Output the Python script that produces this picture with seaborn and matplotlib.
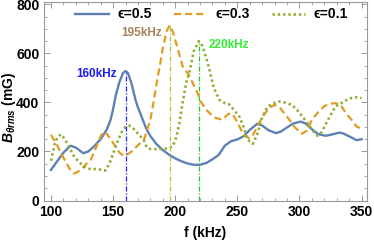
import numpy as np
import pandas as pd
import matplotlib
matplotlib.use("Agg")
import matplotlib.pyplot as plt
import seaborn as sns

# values (f in kHz, B in mG)
f_05 = [100, 105, 110, 115, 116, 120, 125, 126, 130, 135, 137, 140, 145, 148, 150,
        152, 155, 158, 160, 162, 165, 168, 170, 175, 177, 180, 185, 187, 190, 195,
        200, 205, 210, 215, 217, 220, 225, 230, 235, 240, 245, 250, 255, 260, 266,
        270, 275, 281, 285, 290, 295, 301, 305, 310, 315, 321, 325, 332, 335, 340,
        346, 350]
b_05 = [125, 160, 195, 220, 223, 216, 197, 193, 200, 222, 234, 250, 290, 330, 372,
        425, 482, 520, 528, 520, 475, 411, 380, 315, 290, 263, 230, 220, 206, 187,
        172, 160, 151, 146, 145, 146, 153, 168, 186, 224, 242, 249, 262, 288, 313,
        306, 287, 275, 281, 298, 314, 322, 314, 291, 271, 264, 268, 277, 274, 262,
        246, 250]

f_03 = [100, 105, 110, 115, 118, 120, 125, 130, 132, 135, 140, 142.5, 145, 150, 152,
        155, 158.5, 160, 165, 169, 175, 177, 180, 182, 186, 188, 190, 193, 195.5, 198,
        202, 206, 211, 215, 218, 221, 225, 230, 233, 238, 243, 246, 250, 255, 259.6,
        262, 266, 270, 273, 276, 280, 284, 288, 292, 296, 302, 306, 310, 315, 320,
        325, 329, 333, 338, 342, 346, 350]
b_03 = [268, 225, 175, 130, 111, 112, 130, 158, 166, 200, 262, 281, 272, 235, 220,
        196, 182, 183, 200, 220, 250, 281, 330, 384, 506, 560, 620, 690, 714, 690,
        620, 547, 512, 470, 438, 400, 370, 345, 336, 330, 354, 354, 320, 268, 254,
        262, 300, 340, 360, 380, 390, 380, 355, 329, 300, 272, 285, 329, 360, 385,
        395, 397, 390, 352, 329, 302, 292]

f_01 = [100, 103, 105, 108, 111, 115, 118, 121, 125, 128, 132, 138, 143.8, 147, 150,
        153, 157, 160, 163.4, 167, 172, 174.6, 177, 180, 187, 193, 198, 201, 203.4, 206,
        208.8, 211.5, 215, 219, 222, 225, 227.6, 231, 235.5, 240, 243.5, 248, 251.6, 255, 258,
        262.4, 266, 270.3, 274, 278, 283.6, 288, 294, 298, 302, 305, 310, 314.4, 318, 323.7,
        329, 332, 338, 343.8, 350]
b_01 = [162, 230, 255, 270, 252, 215, 185, 166, 145, 133, 128, 128, 122, 150, 190,
        234, 280, 300, 305, 290, 262, 247, 218, 210, 209, 212, 220, 260, 316, 400,
        479, 525, 610, 650, 630, 580, 534, 460, 411, 397, 392, 365, 343, 300, 250,
        231, 270, 343, 380, 395, 404, 400, 390, 370, 345, 325, 290, 264, 280, 336,
        384, 392, 410, 422, 418]

labels = ["ϵ=0.5", "ϵ=0.3", "ϵ=0.1"]
peak_labels = ["160kHz", "195kHz", "220kHz"]

plt.rcParams["font.family"] = ["Liberation Sans", "DejaVu Sans"]
plt.rcParams["font.weight"] = "bold"
plt.rcParams["mathtext.fontset"] = "custom"
plt.rcParams["mathtext.rm"] = "Liberation Sans:bold"
plt.rcParams["mathtext.it"] = "Liberation Sans:italic:bold"
plt.rcParams["mathtext.bf"] = "Liberation Sans:bold"

fig = plt.figure(figsize=(3.74, 2.41), dpi=100)
ax = fig.add_axes([0.118, 0.168, 0.862, 0.824])

series = [(f_05, b_05), (f_03, b_03), (f_01, b_01)]
colors = ["#5E81B5", "#E19C24", "#8FB032"]
styles = [dict(linestyle="-", linewidth=1.7),
          dict(linestyle=(0, (3.2, 1.8)), linewidth=1.6),
          dict(linestyle=(0, (0.9, 1.1)), linewidth=1.9)]

for (f, b), c, st, lab in zip(series, colors, styles, labels):
    sns.lineplot(x=f, y=b, color=c, label=lab, ax=ax, **st)

# markers of the resonance peaks
vcolors = ["#2222EE", "#B5C43A", "#22CC22"]
tcolors = ["#1E1EF0", "#A8805A", "#33EE33"]
offsets = [(-7, -12), (-6, -32), (8, -14)]
aligns = ["right", "right", "left"]
for (f, b), vc, tc, lab, (dx, dy), ha in zip(series, vcolors, tcolors, peak_labels, offsets, aligns):
    i = int(np.argmax(b))
    ax.vlines(f[i], 0, b[i], colors=vc, linestyles=(0, (4, 1.5, 1, 1.5)), linewidth=0.9)
    ax.text(f[i] + dx, b[i] + dy, lab, color=tc, fontsize=8.5, fontweight="bold",
            ha=ha, va="center")

ax.set_xlim(94.5, 354)
ax.set_ylim(0, 810)
ax.set_xticks(np.arange(100, 351, 50))
ax.set_xticks(np.arange(100, 351, 10), minor=True)
ax.set_yticks(np.arange(0, 801, 200))
ax.set_yticks(np.arange(0, 801, 50), minor=True)
ax.tick_params(which="both", direction="in", top=True, right=True, color="#999999",
               labelsize=10)
ax.tick_params(which="major", length=4, width=0.7)
ax.tick_params(which="minor", length=2, width=0.6)
for sp in ax.spines.values():
    sp.set_color("#999999")
    sp.set_linewidth(0.8)
ax.grid(False)

ax.set_xlabel("f (kHz)", fontsize=10, fontweight="bold")
ax.xaxis.set_label_coords(0.5, -0.13)
ax.set_ylabel(r"$\mathit{B}_{\theta rms}$ (mG)", fontsize=10, fontweight="bold")
ax.yaxis.set_label_coords(-0.08, 0.47)

ax.legend(loc="upper center", bbox_to_anchor=(0.52, 1.035), ncol=3, frameon=False,
          handlelength=2.4, columnspacing=1.6, handletextpad=0.6, fontsize=10)

fig.savefig("out.png", dpi=100)
